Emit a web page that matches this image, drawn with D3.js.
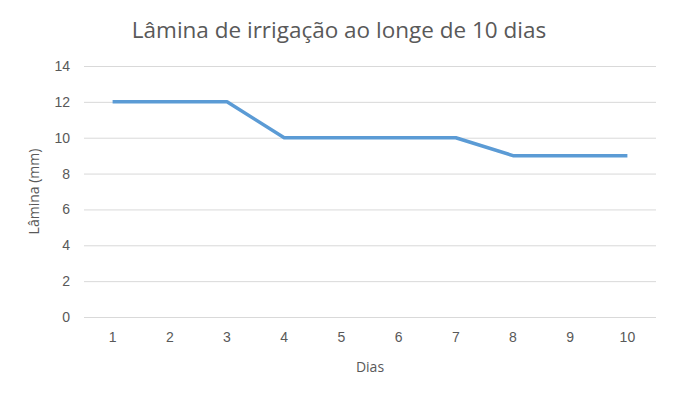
<!DOCTYPE html>
<html>
<head>
<meta charset="utf-8">
<script src="https://cdn.jsdelivr.net/npm/d3@7"></script>
<style>
  body { margin: 0; background: #fff; }
  svg { font-family: "Open Sans", "Noto Sans", sans-serif; }
</style>
</head>
<body>
<div id="chart"></div>
<script>
const days = ["1", "2", "3", "4", "5", "6", "7", "8", "9", "10"];
const lamina = [12, 12, 12, 10, 10, 10, 10, 9, 9, 9];
const yTicks = [0, 2, 4, 6, 8, 10, 12, 14];

const width = 674, height = 397;
const margin = { top: 66, right: 18, bottom: 80, left: 84 };
const innerW = width - margin.left - margin.right;
const innerH = height - margin.top - margin.bottom;

const svg = d3.select("#chart")
  .append("svg")
  .attr("width", width)
  .attr("height", height);

const g = svg.append("g")
  .attr("transform", "translate(" + margin.left + "," + margin.top + ")");

const x = d3.scaleBand()
  .domain(days)
  .range([0, innerW]);

const y = d3.scaleLinear()
  .domain([0, 14])
  .range([innerH, 0]);

// gridlines + y labels
const yAxis = d3.axisLeft(y)
  .tickValues(yTicks)
  .tickSize(-innerW)
  .tickPadding(14);
const yAxisEl = g.append("g").call(yAxis);
yAxisEl.select(".domain").remove();
yAxisEl.selectAll("line")
  .attr("stroke", "#d9d9d9")
  .attr("stroke-width", 1);
yAxisEl.selectAll("text")
  .attr("fill", "#595959")
  .attr("font-size", 14);

// x labels
const xAxis = d3.axisBottom(x)
  .tickSize(0)
  .tickPadding(15);
const xAxisEl = g.append("g")
  .attr("transform", "translate(0," + innerH + ")")
  .call(xAxis);
xAxisEl.select(".domain").remove();
xAxisEl.selectAll("text")
  .attr("fill", "#595959")
  .attr("font-size", 14);

// line
const line = d3.line()
  .x((d, i) => x(days[i]) + x.bandwidth() / 2)
  .y(d => y(d));

g.append("path")
  .datum(lamina)
  .attr("fill", "none")
  .attr("stroke", "#5b9bd5")
  .attr("stroke-width", 3.5)
  .attr("stroke-linejoin", "round")
  .attr("d", line);

// title
svg.append("text")
  .attr("x", 339)
  .attr("y", 38)
  .attr("text-anchor", "middle")
  .attr("fill", "#595959")
  .attr("font-size", 22.5)
  .text("Lâmina de irrigação ao longe de 10 dias");

// axis titles
svg.append("text")
  .attr("x", margin.left + innerW / 2)
  .attr("y", 372)
  .attr("text-anchor", "middle")
  .attr("fill", "#595959")
  .attr("font-size", 14)
  .text("Dias");

svg.append("text")
  .attr("transform", "translate(39," + (margin.top + innerH / 2) + ") rotate(-90)")
  .attr("text-anchor", "middle")
  .attr("fill", "#595959")
  .attr("font-size", 14)
  .text("Lâmina (mm)");
</script>
</body>
</html>
